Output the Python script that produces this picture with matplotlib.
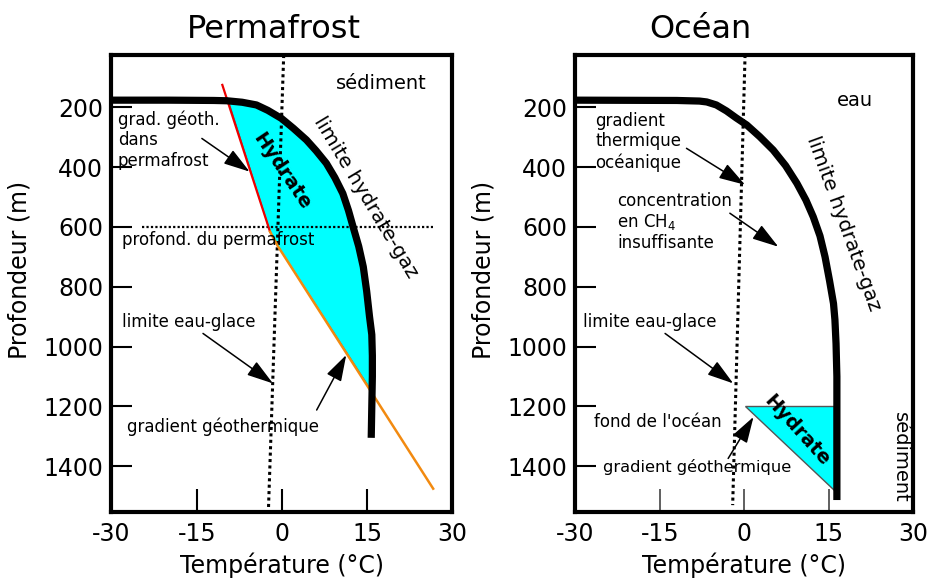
import numpy as np
import matplotlib
matplotlib.use('Agg')
import matplotlib.pyplot as plt

plt.rcParams['font.family'] = ['DejaVu Sans']

# axis settings shared by both panels
x_ticks = [-30, -15, 0, 15, 30]
y_ticks = [200, 400, 600, 800, 1000, 1200, 1400]
x_lim = (-30, 30)
y_lim = (1553, 25)

# --- Permafrost panel ---
# hydrate-gas stability limit (temperature degC, depth m)
pf_limit_t = [-30, -20, -12, -9.7, -7, -4.5, -2.5, -0.1, 2, 4.3, 6, 7.8, 9.3,
              10.7, 11.7, 12.5, 13.5, 14.3, 14.9, 15.4, 15.8, 15.9, 15.9, 15.8, 15.7]
pf_limit_d = [176, 176, 177, 178, 183, 192, 210, 237, 270, 309, 345, 387, 435,
              488, 545, 599, 665, 733, 815, 900, 960, 1030, 1100, 1200, 1305]
# geothermal gradient inside permafrost (red)
pf_grad_perma_t = [-10.5, -2.1]
pf_grad_perma_d = [125, 616]
# geothermal gradient below permafrost (orange)
pf_grad_t = [-2.1, -0.8, 26.6]
pf_grad_d = [616, 662, 1475]
# water-ice limit (dotted)
pf_ice_t = [0.3, -2.4]
pf_ice_d = [25, 1553]
# permafrost base
pf_base_t = [-24.7, 26.6]
pf_base_d = [600, 600]
# hydrate zone corners
pf_hyd_top = (-9.4, 180)
pf_hyd_bottom = (15.75, 1148)

# --- Ocean panel ---
oc_limit_t = [-30, -12, -8, -6.7, -5, -3.2, -1.5, 0.4, 2.7, 5.1, 7.3, 9.3, 10.9,
              12.2, 13.4, 14.3, 15.1, 15.8, 16.05, 16.25, 16.4, 16.4, 16.4]
oc_limit_d = [176, 177, 179, 182, 192, 212, 235, 259, 298, 343, 395, 454, 510,
              566, 630, 700, 780, 856, 910, 990, 1100, 1300, 1513]
oc_ice_t = [0.1, -2.1]
oc_ice_d = [25, 1530]
oc_hyd_t = [0.1, 15.8, 15.8]
oc_hyd_d = [1200, 1200, 1480]

fig = plt.figure(figsize=(9.28, 5.79), dpi=100)
ax1 = fig.add_axes([111.5 / 928, 67 / 579, 341 / 928, 457 / 579])
ax2 = fig.add_axes([575.5 / 928, 67 / 579, 338 / 928, 457 / 579])


def style_axes(ax, tick_color, tick_w, lab_x):
    ax.set_xlim(*x_lim)
    ax.set_ylim(*y_lim)
    ax.set_xticks(x_ticks)
    ax.set_yticks(y_ticks)
    ax.set_xticklabels([str(v) for v in x_ticks])
    ax.tick_params(axis='x', direction='in', length=16.5, width=tick_w,
                   color=tick_color, labelsize=17, pad=7)
    ax.tick_params(axis='y', direction='in', length=15, width=1.5,
                   labelsize=17, pad=6)
    for s in ax.spines.values():
        s.set_linewidth(3)
    ax.set_xlabel('Température (°C)', fontsize=17, labelpad=5)
    ax.set_ylabel('Profondeur (m)', fontsize=17)
    ax.yaxis.set_label_coords(lab_x, 0.53)


style_axes(ax1, 'black', 1.5, -0.236)
style_axes(ax2, '#444444', 1.2, -0.238)

arrow_kw = dict(arrowstyle='-|>,head_length=0.9,head_width=0.28',
                color='black', lw=1.1, mutation_scale=18, shrinkA=0, shrinkB=0)

# Permafrost panel
lt = np.array(pf_limit_t)
ld = np.array(pf_limit_d)
keep = (ld > pf_hyd_top[1]) & (ld < pf_hyd_bottom[1]) & (lt > pf_hyd_top[0])
poly_t = [pf_hyd_top[0]] + list(lt[keep]) + [pf_hyd_bottom[0], pf_grad_t[1], pf_grad_t[0]]
poly_d = [pf_hyd_top[1]] + list(ld[keep]) + [pf_hyd_bottom[1], pf_grad_d[1], pf_grad_d[0]]
ax1.fill(poly_t, poly_d, color='#00ffff', edgecolor='#2f6f6f', lw=0.8, zorder=1)
ax1.plot(pf_ice_t, pf_ice_d, color='black', lw=2.2, ls=(0, (1, 1.1)), zorder=2)
ax1.plot(pf_base_t, pf_base_d, color='black', lw=1.6, ls=(0, (1, 1)), zorder=2)
ax1.plot(pf_grad_perma_t, pf_grad_perma_d, color='#ee0000', lw=1.6, zorder=3)
ax1.plot(pf_grad_t, pf_grad_d, color='#f28a10', lw=1.8, zorder=3)
ax1.plot(pf_limit_t, pf_limit_d, color='black', lw=5.2, solid_capstyle='butt',
         solid_joinstyle='round', zorder=4)

ax1.text(17.4, 119, 'sédiment', fontsize=14, ha='center', va='center')
ax1.text(14.7, 500, 'limite hydrate-gaz', fontsize=14.5, ha='center', va='center',
         rotation=-59)
ax1.text(0.05, 415, 'Hydrate', fontsize=14, fontweight='bold', ha='center',
         va='center', rotation=-56, zorder=5)
ax1.text(-28.9, 310, 'grad. géoth.\ndans\npermafrost', fontsize=12, ha='left',
         va='center', linespacing=1.2)
ax1.text(-28.2, 644, 'profond. du permafrost', fontsize=12, ha='left', va='center')
ax1.text(-28.2, 917, 'limite eau-glace', fontsize=12, ha='left', va='center')
ax1.text(-27.3, 1268, 'gradient géothermique', fontsize=12, ha='left', va='center')
ax1.annotate('', xy=(-5.7, 415), xytext=(-14.1, 304), arrowprops=arrow_kw)
ax1.annotate('', xy=(-1.6, 1123), xytext=(-13.9, 956), arrowprops=arrow_kw)
ax1.annotate('', xy=(11.3, 1028), xytext=(6.1, 1212), arrowprops=arrow_kw)

# Ocean panel
ax2.fill(oc_hyd_t, oc_hyd_d, color='#00ffff', edgecolor='#555555', lw=1, zorder=1)
ax2.plot(oc_ice_t, oc_ice_d, color='black', lw=2.2, ls=(0, (1, 1.1)), zorder=2)
ax2.plot(oc_limit_t, oc_limit_d, color='black', lw=5.2, solid_capstyle='butt',
         solid_joinstyle='round', zorder=4)

ax2.text(19.6, 176, 'eau', fontsize=14, ha='center', va='center')
ax2.text(17.6, 589, 'limite hydrate-gaz', fontsize=14.5, ha='center', va='center',
         rotation=-70)
ax2.text(9.3, 1279, 'Hydrate', fontsize=14, fontweight='bold', ha='center',
         va='center', rotation=-48, zorder=5)
ax2.text(-26.5, 315, 'gradient\nthermique\nocéanique', fontsize=12, ha='left',
         va='center', linespacing=1.2)
ax2.text(-22.6, 584, 'concentration\nen CH$_4$\ninsuffisante', fontsize=12,
         ha='left', va='center', linespacing=1.15)
ax2.text(-28.6, 917, 'limite eau-glace', fontsize=12, ha='left', va='center')
ax2.text(-26.8, 1252, "fond de l'océan", fontsize=12, ha='left', va='center')
ax2.text(-25.1, 1402, 'gradient géothermique', fontsize=11.7, ha='left', va='center')
ax2.text(27.6, 1369, 'sédiment', fontsize=14, ha='center', va='center', rotation=-90)
ax2.annotate('', xy=(0.1, 459), xytext=(-10.3, 337), arrowprops=arrow_kw)
ax2.annotate('', xy=(6.0, 666), xytext=(-2.6, 554), arrowprops=arrow_kw)
ax2.annotate('', xy=(-2.0, 1123), xytext=(-14.1, 956), arrowprops=arrow_kw)
ax2.annotate('', xy=(1.6, 1235), xytext=(-2.9, 1374), arrowprops=arrow_kw)

fig.text(273.5 / 928, 1 - 30 / 579, 'Permafrost', fontsize=23, ha='center', va='center')
fig.text(700 / 928, 1 - 30 / 579, 'Océan', fontsize=23, ha='center', va='center')

fig.savefig('out.png', dpi=100)
